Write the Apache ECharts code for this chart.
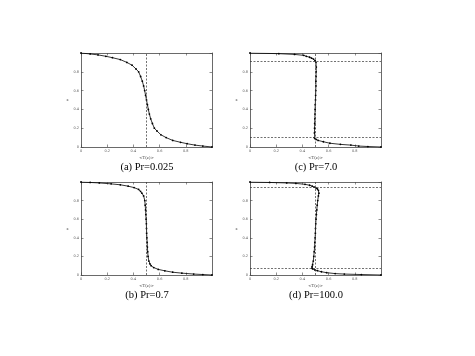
<!DOCTYPE html>
<html>
<head>
<meta charset="utf-8">
<script src="https://cdn.jsdelivr.net/npm/echarts@6/dist/echarts.min.js"></script>
<style>html,body{margin:0;padding:0;background:#fff;}#c{width:475px;height:356px;}</style>
</head>
<body>
<div id="c"></div>
<script>
// (a) Pr = 0.025
const zA = [0, 0.01, 0.02, 0.035, 0.05, 0.07, 0.1, 0.13, 0.17, 0.2, 0.25, 0.3, 0.35, 0.4, 0.45, 0.5, 0.55, 0.6, 0.65, 0.7, 0.75, 0.8, 0.83, 0.87, 0.9, 0.93, 0.95, 0.965, 0.98, 0.99, 1];
const tA = [1, 0.93, 0.87, 0.81, 0.76, 0.70, 0.65, 0.61, 0.58, 0.56, 0.545, 0.532, 0.522, 0.514, 0.507, 0.5, 0.493, 0.486, 0.478, 0.468, 0.455, 0.44, 0.42, 0.39, 0.35, 0.30, 0.24, 0.19, 0.13, 0.07, 0];
// (b) Pr = 0.7
const zB = [0, 0.005, 0.01, 0.02, 0.03, 0.045, 0.06, 0.08, 0.1, 0.12, 0.15, 0.2, 0.25, 0.3, 0.35, 0.4, 0.45, 0.5, 0.55, 0.6, 0.65, 0.7, 0.75, 0.8, 0.85, 0.88, 0.9, 0.92, 0.94, 0.955, 0.97, 0.98, 0.99, 0.995, 1];
const tB = [1, 0.93, 0.86, 0.77, 0.70, 0.64, 0.59, 0.555, 0.535, 0.525, 0.518, 0.512, 0.509, 0.507, 0.505, 0.503, 0.501, 0.5, 0.499, 0.497, 0.495, 0.493, 0.49, 0.487, 0.478, 0.465, 0.455, 0.44, 0.405, 0.36, 0.30, 0.23, 0.14, 0.07, 0];
// (c) Pr = 7.0
const zC = [0, 0.005, 0.01, 0.02, 0.028, 0.04, 0.056, 0.07, 0.08, 0.09, 0.1, 0.15, 0.2, 0.25, 0.3, 0.35, 0.4, 0.45, 0.5, 0.55, 0.6, 0.65, 0.7, 0.75, 0.8, 0.85, 0.9, 0.92, 0.935, 0.945, 0.955, 0.965, 0.975, 0.985, 0.993, 1];
const tC = [1, 0.90, 0.83, 0.77, 0.69, 0.61, 0.56, 0.52, 0.505, 0.495, 0.49, 0.492, 0.493, 0.494, 0.495, 0.496, 0.497, 0.498, 0.5, 0.501, 0.502, 0.503, 0.503, 0.504, 0.505, 0.506, 0.503, 0.497, 0.485, 0.47, 0.455, 0.43, 0.41, 0.34, 0.22, 0];
// (d) Pr = 100.0
const zD = [0, 0.005, 0.01, 0.015, 0.025, 0.035, 0.046, 0.055, 0.065, 0.075, 0.09, 0.11, 0.15, 0.2, 0.25, 0.3, 0.35, 0.4, 0.45, 0.5, 0.55, 0.6, 0.65, 0.7, 0.75, 0.8, 0.85, 0.88, 0.91, 0.925, 0.935, 0.945, 0.955, 0.965, 0.975, 0.985, 0.99, 0.995, 1];
const tD = [1, 0.85, 0.72, 0.65, 0.585, 0.545, 0.515, 0.495, 0.478, 0.472, 0.474, 0.478, 0.483, 0.487, 0.49, 0.493, 0.495, 0.497, 0.499, 0.5, 0.502, 0.504, 0.507, 0.51, 0.513, 0.517, 0.522, 0.526, 0.522, 0.515, 0.505, 0.49, 0.475, 0.455, 0.42, 0.35, 0.28, 0.15, 0];

const midLine = [0.5];
const layersC = [0.095, 0.905];
const layersD = [0.065, 0.935];
const captions = ['(a) Pr=0.025', '(b) Pr=0.7', '(c) Pr=7.0', '(d) Pr=100.0'];
const xName = '<T(z)>';
const yName = 'z';

const panels = [
  {z: zA, t: tA, layers: [], left: 81, top: 53, h: 94, cap: captions[0]},
  {z: zB, t: tB, layers: [], left: 81, top: 182, h: 93, cap: captions[1]},
  {z: zC, t: tC, layers: layersC, left: 250, top: 53, h: 94, cap: captions[2]},
  {z: zD, t: tD, layers: layersD, left: 250, top: 182, h: 93, cap: captions[3]}
];

const axisCol = '#444';
const grids = [], xAxes = [], yAxes = [], series = [], graphics = [];
panels.forEach((p, i) => {
  grids.push({left: p.left, top: p.top, width: 131, height: p.h});
  const common = {
    type: 'value', min: 0, max: 1, interval: 0.2, gridIndex: i,
    axisLine: {show: true, onZero: false, lineStyle: {color: axisCol, width: 0.8}},
    axisTick: {show: true, inside: true, length: 2.5, lineStyle: {color: axisCol, width: 0.6}},
    splitLine: {show: false}
  };
  xAxes.push(Object.assign({}, common, {
    position: 'bottom',
    name: xName, nameLocation: 'middle', nameGap: 9,
    nameTextStyle: {fontSize: 4, color: '#444', fontFamily: 'DejaVu Serif'},
    axisLabel: {show: true, fontSize: 3.5, color: '#555', margin: 2, showMaxLabel: false, fontFamily: 'DejaVu Sans'}
  }));
  xAxes.push(Object.assign({}, common, {position: 'top', axisLabel: {show: false}}));
  yAxes.push(Object.assign({}, common, {
    position: 'left',
    name: yName, nameLocation: 'middle', nameGap: 7, nameRotate: 0,
    nameTextStyle: {fontSize: 4, color: '#444', fontFamily: 'DejaVu Serif'},
    axisLabel: {show: true, fontSize: 3.5, color: '#555', margin: 2, showMaxLabel: false, fontFamily: 'DejaVu Sans'}
  }));
  yAxes.push(Object.assign({}, common, {position: 'right', axisLabel: {show: false}}));

  const markData = midLine.map(v => ({xAxis: v}));
  p.layers.forEach(v => markData.push({yAxis: v}));
  series.push({
    type: 'line',
    xAxisIndex: 2 * i, yAxisIndex: 2 * i,
    data: p.z.map((zz, k) => [p.t[k], zz]),
    showSymbol: true, symbol: 'circle', symbolSize: 1.8,
    itemStyle: {color: '#000'},
    lineStyle: {color: '#000', width: 0.8},
    animation: false, silent: true,
    markLine: {
      silent: true, symbol: 'none', animation: false,
      label: {show: false},
      lineStyle: {color: '#333', width: 0.7, type: [2, 1.5]},
      data: markData
    }
  });
  graphics.push({
    type: 'text',
    x: p.left + 66, y: p.top + p.h + 20,
    style: {text: p.cap, fill: '#000', font: '10.5px "Liberation Serif"', align: 'center', verticalAlign: 'middle'}
  });
});

const chart = echarts.init(document.getElementById('c'), null, {renderer: 'canvas'});
chart.setOption({
  backgroundColor: '#fff',
  animation: false,
  grid: grids,
  xAxis: xAxes,
  yAxis: yAxes,
  series: series,
  graphic: graphics
});
</script>
</body>
</html>
